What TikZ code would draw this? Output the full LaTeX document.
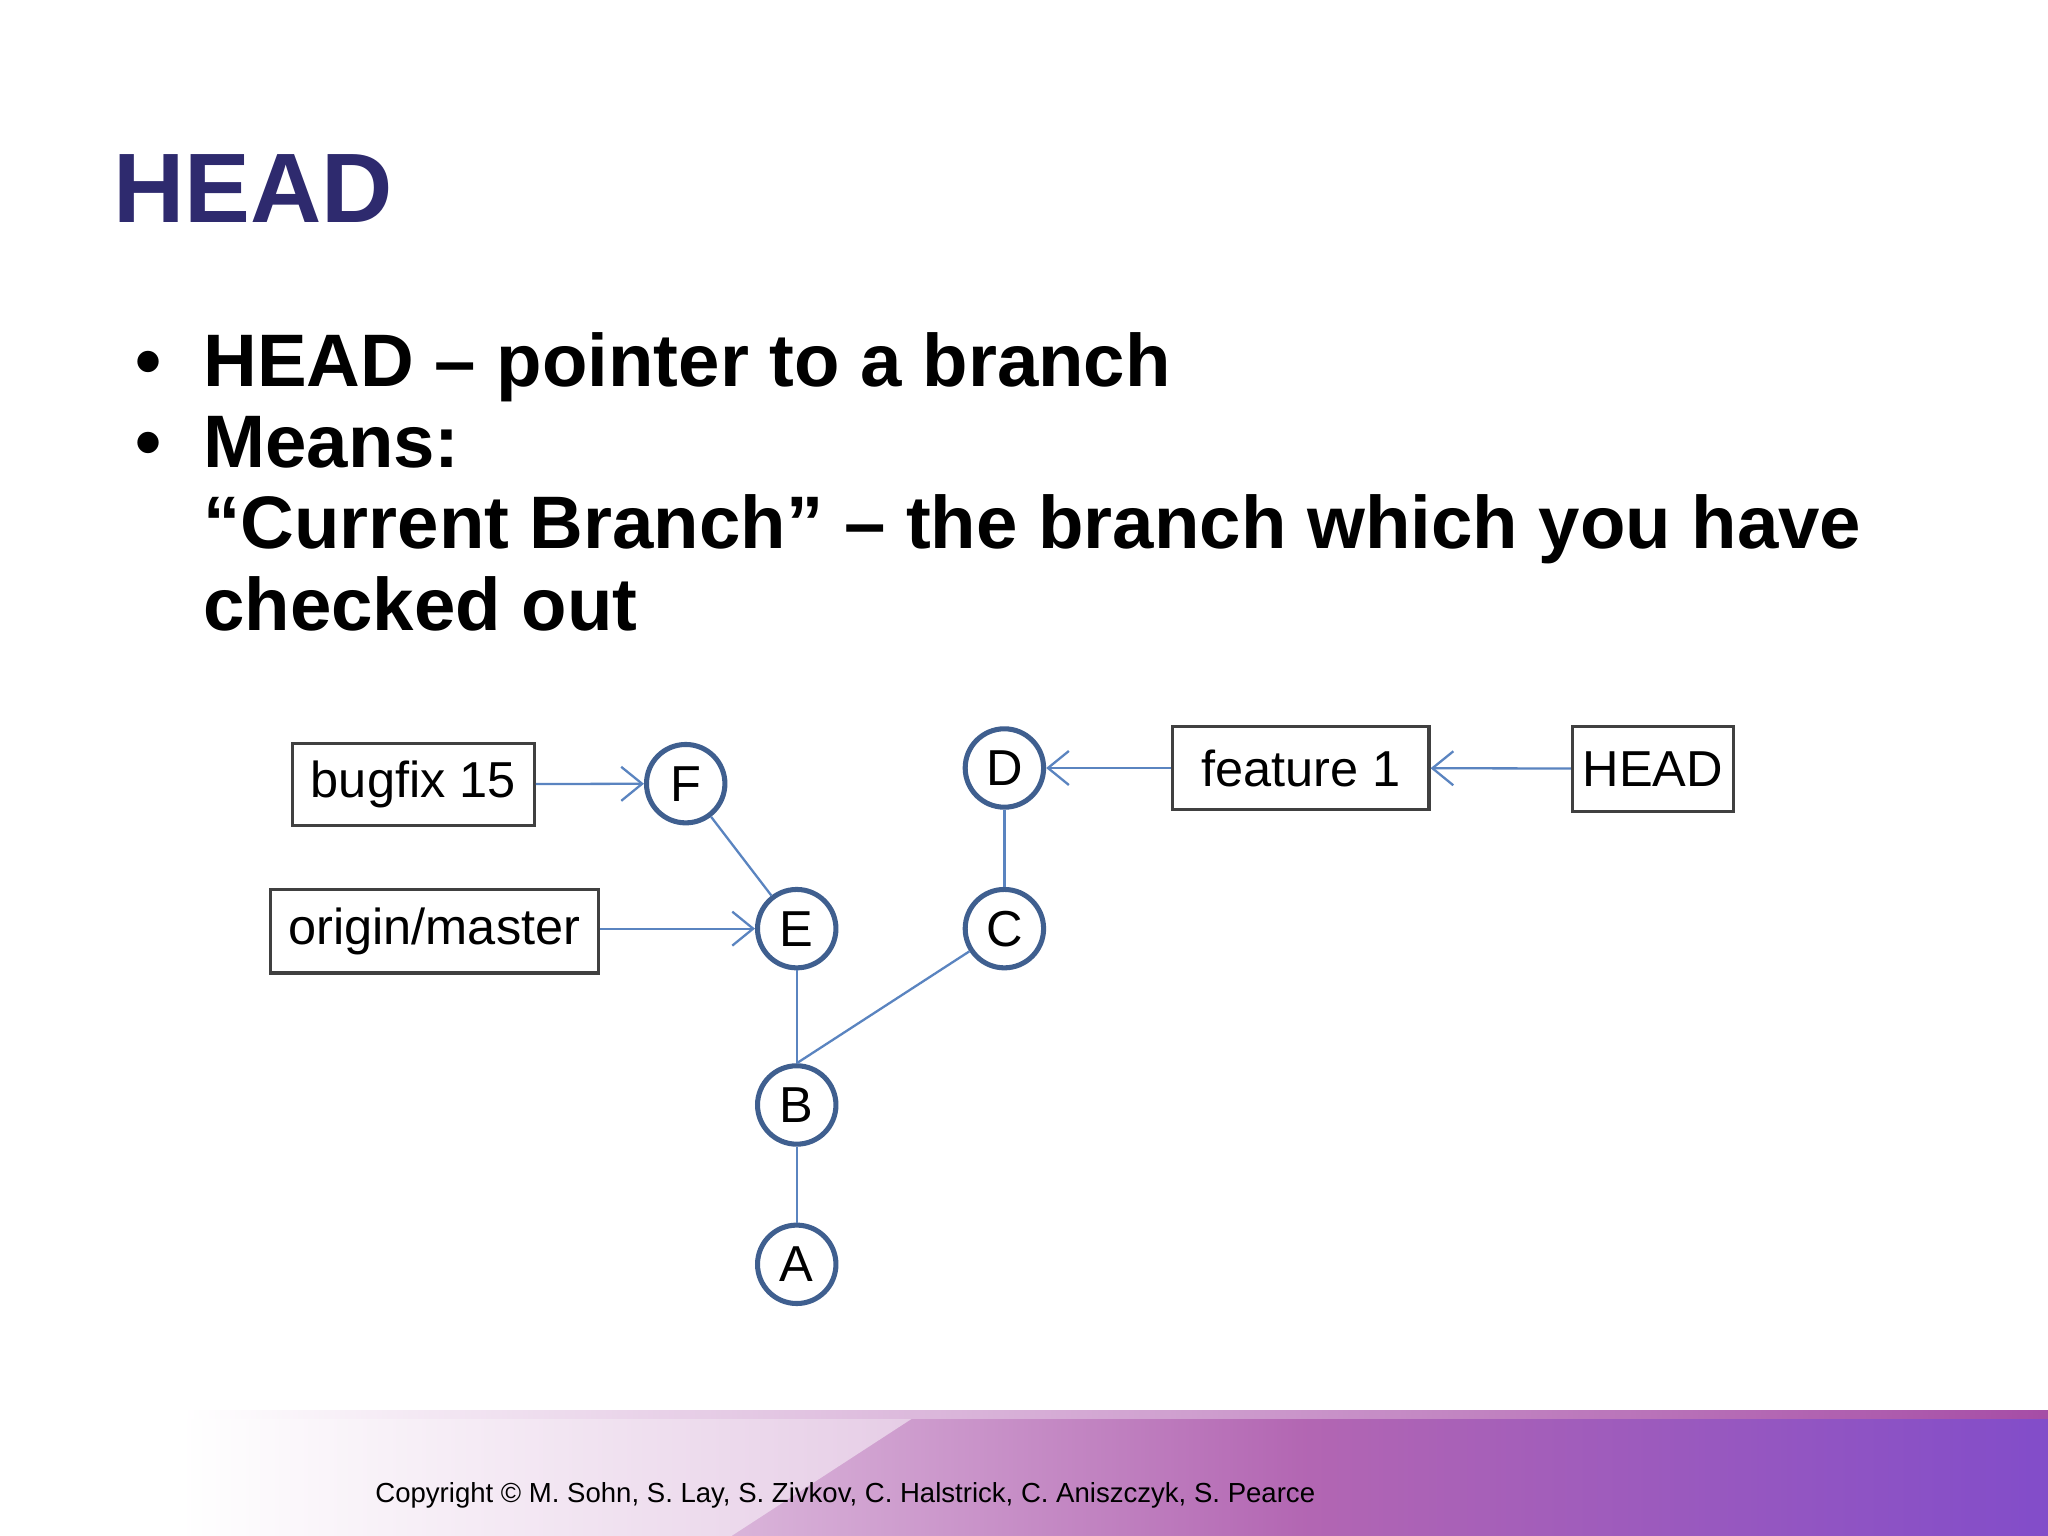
\documentclass[tikz,border=0pt]{standalone}
\usepackage{fontspec}
\setmainfont{Liberation Sans}
\usetikzlibrary{arrows.meta}
\definecolor{titlec}{HTML}{2E2A6E}
\definecolor{lnc}{HTML}{5A84C0}
\definecolor{circc}{HTML}{3F5F8F}
\begin{document}
\begin{tikzpicture}[x=0.01cm,y=-0.01cm,
  commit/.style={circle,draw=circc,line width=1.1pt,fill=white,minimum size=0.6cm,inner sep=0pt,font=\fontsize{11}{11}\selectfont},
  ref/.style={draw=black!75,line width=0.7pt,fill=white,inner sep=0pt,font=\fontsize{11}{11}\selectfont},
  link/.style={draw=lnc,line width=0.5pt},
  ptr/.style={link,-{Straight Barb[length=1.6mm,width=2.6mm]}}]
\useasboundingbox (0,0) rectangle (1568,1176);
\fill[white] (0,0) rectangle (1568,1176);
% footer
\shade[left color=white,right color=white!40!violet] (140,1085) rectangle (1000,1176);
\shade[left color=white!40!violet,right color=violet!60!blue!70!white] (1000,1085) rectangle (1568,1176);
\fill[white,opacity=0.5] (140,1085) -- (700,1085) -- (560,1176) -- (140,1176) -- cycle;
\shade[left color=white,right color=violet!70] (140,1080) rectangle (1568,1086);
\node[anchor=base west,font=\fontsize{6}{6}\selectfont] (copy) at (275,1150) {Copyright © M. Sohn, S. Lay, S. Zivkov, C. Halstrick, C. Aniszczyk, S. Pearce};
% title
\node[anchor=base west,inner sep=0pt,text=titlec,font=\fontsize{21.5}{21.5}\selectfont\bfseries] (title) at (86,170) {HEAD};
\begin{scope}[every node/.style={anchor=base west,inner sep=0pt,font=\fontsize{16.2}{16.2}\selectfont\bfseries}]
\node (b1) at (103,296) {•};
\node (t1) at (155,296) {HEAD – pointer to a branch};
\node (b2) at (103,358) {•};
\node (t2) at (155,358) {Means:};
\node (t3) at (155,420) {“Current Branch” – the branch which you have};
\node (t4) at (155,483) {checked out};
\end{scope}
% graph
\node[commit] (F) at (525,600) {F};
\node[commit] (E) at (610,711) {E};
\node[commit] (B) at (610,846) {B};
\node[commit] (A) at (610,968) {A};
\node[commit] (D) at (769,588) {D};
\node[commit] (C) at (769,711) {C};
\node[ref,minimum width=1.85cm,minimum height=0.63cm] (bug) at (316.5,600.5) {bugfix 15};
\node[ref,minimum width=2.51cm,minimum height=0.64cm] (om) at (332.5,713) {origin/master};
\node[ref,minimum width=1.96cm,minimum height=0.64cm] (feat) at (996,588) {feature 1};
\node[ref,minimum width=1.23cm,minimum height=0.65cm] (head) at (1265.5,588.5) {HEAD};
\draw[link] (F) -- (E);
\draw[link] (E) -- (B);
\draw[link] (B) -- (A);
\draw[link] (D) -- (C);
\draw[link] (B.north) -- (C);
\draw[ptr] (bug) -- (F);
\draw[ptr] (om.east|-E) -- (E);
\draw[ptr] (feat) -- (D);
\draw[ptr] (head) -- (feat);
\end{tikzpicture}
\end{document}
